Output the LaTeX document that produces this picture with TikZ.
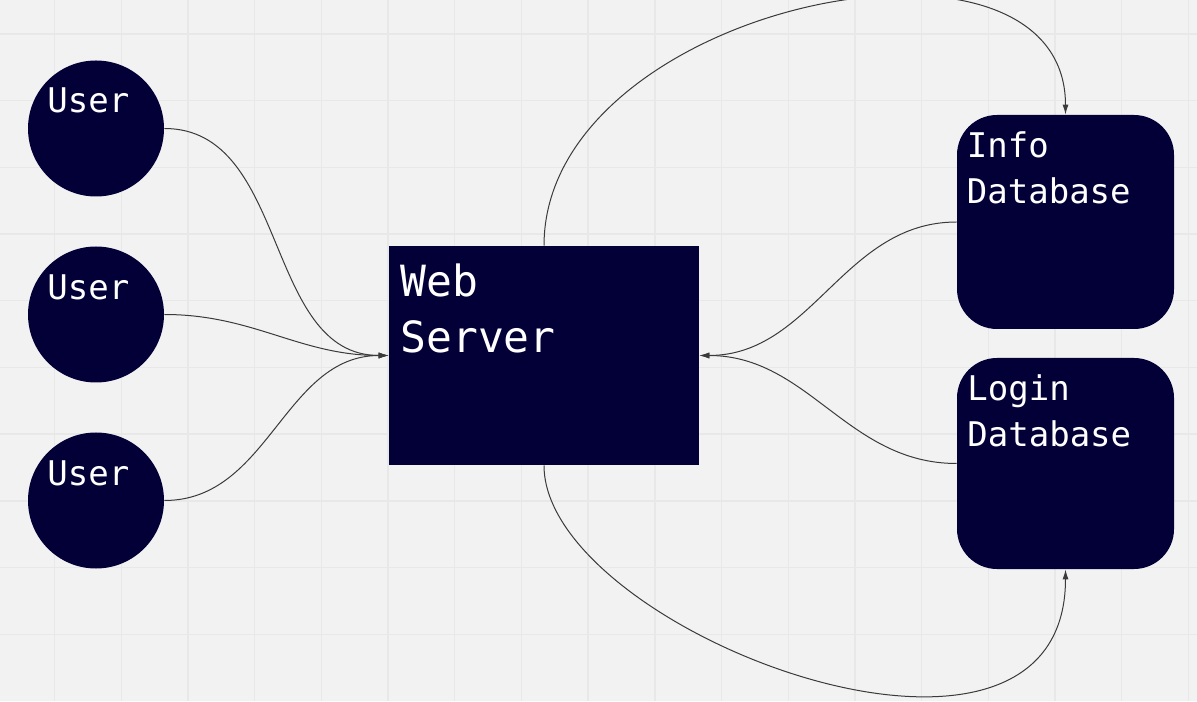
\documentclass[tikz,border=0pt]{standalone}
\usepackage{fontspec}
\newfontfamily\monofont{DejaVu Sans Mono}
\usetikzlibrary{arrows.meta}
\definecolor{bgcol}{HTML}{F2F2F2}
\definecolor{gridcol}{HTML}{E8E8E8}
\definecolor{boxcol}{HTML}{030037}
\definecolor{linkcol}{HTML}{3A3A3A}
\begin{document}
\begin{tikzpicture}[
	>={Latex[length=5pt,width=3pt]},
	x=0.5pt,y=0.5pt,
	user/.style={circle, fill=boxcol, minimum size=68pt, inner sep=0pt},
	server/.style={rectangle, fill=boxcol, minimum width=155pt, minimum height=109.5pt, inner sep=0pt},
	dbase/.style={rectangle, rounded corners=20pt, fill=boxcol, minimum width=108.5pt, inner sep=0pt},
	label text/.style={text=white, inner sep=0pt, align=left, anchor=base west,
		font=\monofont\fontsize{17}{23}\selectfont},
	big text/.style={label text, font=\monofont\fontsize{21.5}{28}\selectfont},
	link/.style={->, draw=linkcol, line width=0.5pt}
	]
	% begin grid
\fill[bgcol] (0,0) rectangle (1197,701);
\useasboundingbox (0,0) rectangle (1197,701);
\foreach \i in {0,...,17}
\draw[gridcol, line width=0.7pt] (54.5+66.7*\i,0) -- (54.5+66.7*\i,701);
\foreach \j in {1,...,10}
\draw[gridcol, line width=0.7pt] (0,66.7*\j) -- (1197,66.7*\j);
% end grid

			\node[user] (user_1)   at (96, 572.5) {};
			\node[user] (user_2)   at (96, 386.5) {};
			\node[user] (user_3)   at (96, 200.5) {};
			\node[server] (web)   at (544, 345.5) {};
			\node[dbase, minimum height=107pt] (info_db)   at (1065.5, 479) {};
			\node[dbase, minimum height=105.5pt] (login_db)   at (1065.5, 237.5) {};

			% base of a two line text is its last line
			\node[label text] (user_1_txt)   at (47, 588) {User};
			\node[label text] (user_2_txt)   at (47, 401) {User};
			\node[label text] (user_3_txt)   at (47, 215) {User};
			\node[big text] (web_txt)   at (400, 348) {Web\\Server};
			\node[label text] (info_txt)   at (966.5, 497) {Info\\Database};
			\node[label text] (login_txt)   at (967, 254) {Login\\Database};

			\draw[link] (user_1.east) to[out=0, in=180] (web.west);
			\draw[link] (user_2.east) to[out=0, in=180] (web.west);
			\draw[link] (user_3.east) to[out=0, in=180] (web.west);
			\draw[link] (info_db.west) to[out=180, in=0] (web.east);
			\draw[link] (login_db.west) to[out=180, in=0] (web.east);
			\draw[link] (web.north) .. controls +(0,241) and +(0,216) .. (info_db.north);
			\draw[link] (web.south) .. controls +(0,-166) and +(0,-258) .. (login_db.south);

\end{tikzpicture}
\end{document}
